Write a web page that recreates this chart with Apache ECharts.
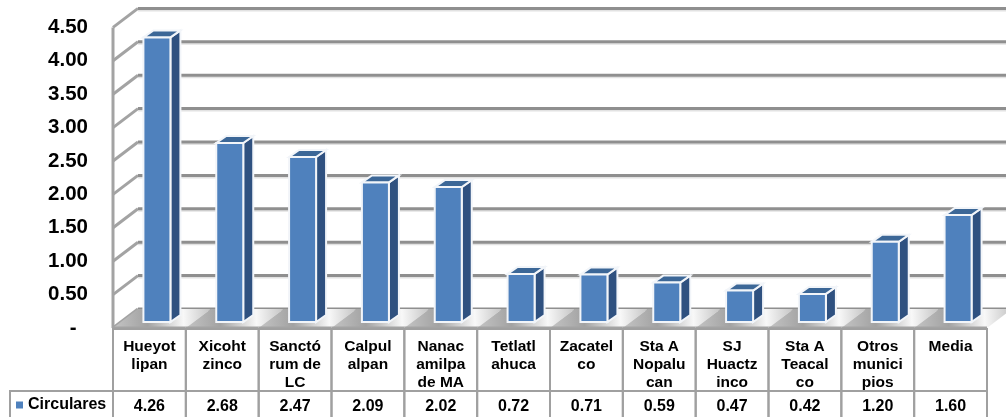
<!DOCTYPE html>
<html>
<head>
<meta charset="utf-8">
<style>
html, body { margin: 0; padding: 0; background: #fff; }
#main { width: 1006px; height: 417px; }
</style>
<script src="https://cdn.jsdelivr.net/npm/echarts@6/dist/echarts.min.js"></script>
</head>
<body>
<div id="main"></div>
<script>
// datos de la grafica
const seriesName = 'Circulares';
const categories = ['Hueyot\nlipan', 'Xicoht\nzinco', 'Sanctó\nrum de\nLC', 'Calpul\nalpan', 'Nanac\namilpa\nde MA',
    'Tetlatl\nahuca', 'Zacatel\nco', 'Sta A\nNopalu\ncan', 'SJ\nHuactz\ninco', 'Sta A\nTeacal\nco', 'Otros\nmunici\npios', 'Media'];
const values = [4.26, 2.68, 2.47, 2.09, 2.02, 0.72, 0.71, 0.59, 0.47, 0.42, 1.20, 1.60];
const ticks = [0, 0.5, 1, 1.5, 2, 2.5, 3, 3.5, 4, 4.5];

const FONT = '"Liberation Sans", Arial, sans-serif';
const depthX = 25, depthY = 19;   // profundidad del piso
const gridColor = '#8f8f8f', wallColor = '#a3a3a3';

var chart = echarts.init(document.getElementById('main'));

// paredes y lineas de la cuadricula
function renderFrame(params, api) {
    const v = api.value(0);
    const p = api.coord([0, v]);
    const left = p[0] - api.size([1, 0])[0] / 2;
    const right = left + api.size([1, 0])[0] * 12;
    const kids = [];
    const lineSt = { stroke: wallColor, lineWidth: 3 };
    kids.push({ type: 'line', shape: { x1: left, y1: p[1], x2: left + depthX, y2: p[1] - depthY }, style: lineSt });
    if (v > 0) {
        kids.push({ type: 'line', shape: { x1: left + depthX, y1: p[1] - depthY + 2, x2: right + depthX, y2: p[1] - depthY + 2 }, style: { stroke: '#e2e2e2', lineWidth: 2 } });
    }
    kids.push({ type: 'line', shape: { x1: left + depthX, y1: p[1] - depthY, x2: right + depthX, y2: p[1] - depthY }, style: { stroke: gridColor, lineWidth: 3 } });
    if (v === 0) {
        kids.push({ type: 'line', shape: { x1: left, y1: p[1], x2: left, y2: api.coord([0, 4.5])[1] }, style: lineSt });
    }
    return { type: 'group', children: kids };
}

// barras 3D y el tramo de piso de cada categoria
function renderBar(params, api) {
    const i = api.value(0);
    const c = api.coord([i, api.value(1)]);
    const z = api.coord([i, 0]);
    const band = api.size([1, 0])[0];
    const w = 27, dx = 10, dy = 7;
    const x0 = c[0] - 6, x1 = x0 + w;
    const top = c[1] - 6, bot = z[1] - 6;
    const edge = { stroke: '#f2f5f9', lineWidth: 2 };
    const floorLeft = z[0] - band / 2;
    return {
        type: 'group',
        children: [
            {
                type: 'polygon',
                shape: { points: [[floorLeft, z[1]], [floorLeft + band, z[1]], [floorLeft + band + depthX, z[1] - depthY], [floorLeft + depthX, z[1] - depthY]] },
                style: {
                    fill: new echarts.graphic.LinearGradient(0, 0.6, 1, 0.4, [
                        { offset: 0, color: '#c4c4c4' },
                        { offset: 0.35, color: '#a2a2a2' },
                        { offset: 0.72, color: '#f8f8f8' },
                        { offset: 1, color: '#c4c4c4' }
                    ])
                }
            },
            {
                type: 'line',
                shape: { x1: floorLeft, y1: z[1], x2: floorLeft + band, y2: z[1] },
                style: { stroke: wallColor, lineWidth: 3 }
            },
            {
                type: 'polygon',
                shape: { points: [[x1, top], [x1 + dx, top - dy], [x1 + dx, bot - dy], [x1, bot]] },
                style: Object.assign({ fill: '#2f5180' }, edge)
            },
            {
                type: 'polygon',
                shape: { points: [[x0, top], [x0 + dx, top - dy], [x1 + dx, top - dy], [x1, top]] },
                style: Object.assign({ fill: '#3c6797' }, edge)
            },
            {
                type: 'rect',
                shape: { x: x0, y: top, width: w, height: bot - top },
                style: Object.assign({ fill: '#4f81bd' }, edge)
            }
        ]
    };
}

// tabla de datos debajo del eje
function renderTable(params, api) {
    const i = api.value(0);
    const z = api.coord([i, 0]);
    const band = api.size([1, 0])[0];
    const x = z[0] - band / 2;
    const y = z[1] + 1;
    const st = { fill: 'none', stroke: '#a0a0a0', lineWidth: 2 };
    const kids = [
        { type: 'rect', shape: { x: x, y: y, width: band, height: 62 }, style: st },
        { type: 'rect', shape: { x: x, y: y + 62, width: band, height: 30 }, style: st }
    ];
    if (i === 0) {
        kids.push({ type: 'rect', shape: { x: 10, y: y + 62, width: x - 10, height: 30 }, style: st });
    }
    return { type: 'group', children: kids };
}

var option = {
    animation: false,
    backgroundColor: '#fff',
    legend: {
        left: 16,
        top: 397,
        padding: 0,
        itemWidth: 7,
        itemHeight: 7,
        itemGap: 0,
        data: [{ name: seriesName, icon: 'rect' }],
        textStyle: { fontFamily: FONT, fontWeight: 'bold', fontSize: 16, color: '#000' }
    },
    grid: { left: 113, right: 19, top: 27.4, bottom: 89 },
    xAxis: [
        {
            type: 'category',
            data: categories,
            axisLine: { show: false },
            axisTick: { show: false },
            axisLabel: {
                interval: 0,
                margin: 10,
                verticalAlign: 'top',
                fontFamily: FONT,
                fontWeight: 'bold',
                fontSize: 15.5,
                lineHeight: 18,
                color: '#000'
            }
        },
        {
            type: 'category',
            position: 'bottom',
            offset: 69,
            data: values.map(v => v.toFixed(2)),
            axisLine: { show: false },
            axisTick: { show: false },
            axisLabel: {
                interval: 0,
                margin: 2,
                verticalAlign: 'top',
                fontFamily: FONT,
                fontWeight: 'bold',
                fontSize: 16,
                color: '#000'
            }
        }
    ],
    yAxis: {
        type: 'value',
        min: 0,
        max: 4.5,
        interval: 0.5,
        axisLine: { show: false },
        axisTick: { show: false },
        splitLine: { show: false },
        axisLabel: {
            margin: 25,
            fontFamily: FONT,
            fontWeight: 'bold',
            fontSize: 20.5,
            color: '#000',
            formatter: v => v === 0 ? '-  ' : v.toFixed(2)
        }
    },
    series: [
        {
            name: 'marco',
            type: 'custom',
            z: 1,
            silent: true,
            renderItem: renderFrame,
            encode: { x: -1, y: 0 },
            data: ticks.map(t => [t])
        },
        {
            name: seriesName,
            type: 'custom',
            z: 2,
            renderItem: renderBar,
            itemStyle: { color: '#4f81bd' },
            encode: { x: 0, y: 1 },
            data: values.map((v, i) => [i, v])
        },
        {
            name: 'tabla',
            type: 'custom',
            z: 3,
            silent: true,
            renderItem: renderTable,
            encode: { x: 0, y: -1 },
            data: categories.map((c, i) => [i])
        }
    ]
};
chart.setOption(option);
</script>
</body>
</html>
